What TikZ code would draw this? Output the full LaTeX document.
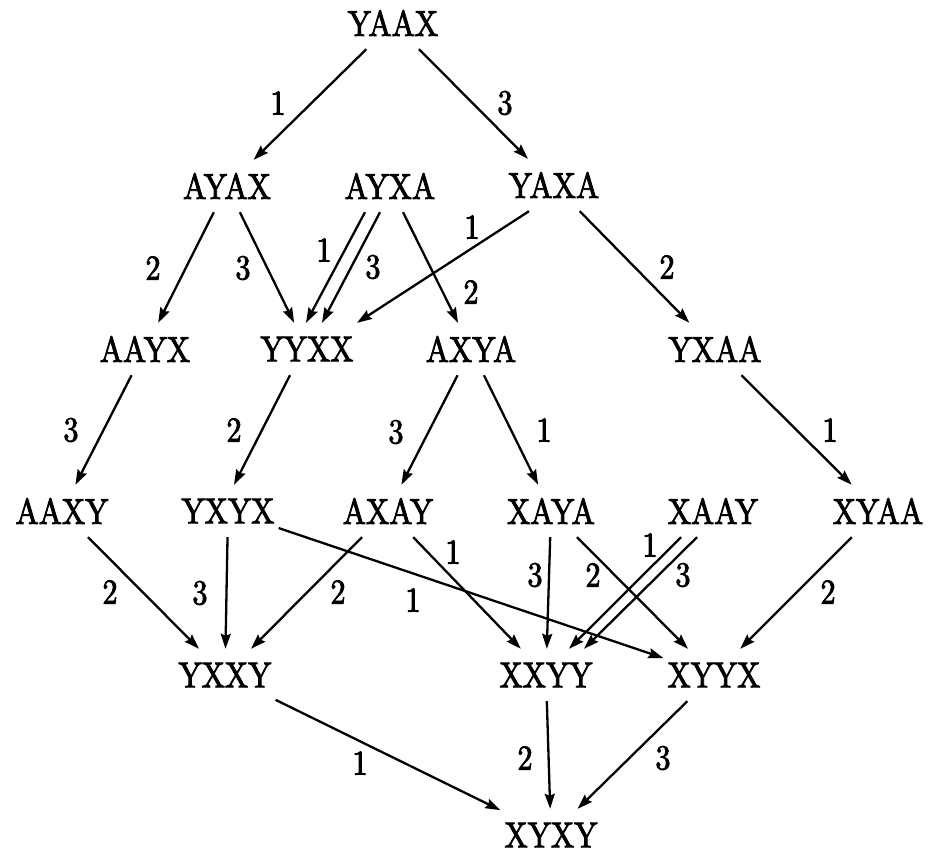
\documentclass[tikz,border=0pt]{standalone}
\usepackage{fontspec}
\newfontfamily\dgfont{lmroman10-regular.otf}[FakeStretch=0.86,FakeBold=2.4]
\usetikzlibrary{arrows.meta}
\begin{document}
\begin{tikzpicture}[x=1pt,y=-1pt,
  st/.style={font=\dgfont\fontsize{36}{42}\selectfont, inner xsep=4pt, inner ysep=0pt, minimum height=52pt},
  lab/.style={font=\dgfont\fontsize{35}{42}\selectfont, inner sep=0pt},
  ar/.style={-{Stealth[length=15pt,width=10pt,inset=2pt]}, line width=2.3pt}]
\useasboundingbox (0,0) rectangle (934,854);
% nodes
\node[st] (YAAX) at (393,23) {YAAX};
\node[st] (AYAX) at (227,186) {AYAX};
\node[st] (AYXA) at (390,186) {AYXA};
\node[st] (YAXA) at (554,185) {YAXA};
\node[st] (AAYX) at (145,349) {AAYX};
\node[st] (YYXX) at (307,349) {YYXX};
\node[st] (AXYA) at (471,349) {AXYA};
\node[st] (YXAA) at (715,349) {YXAA};
\node[st] (AAXY) at (62,511) {AAXY};
\node[st] (YXYX) at (228,511) {YXYX};
\node[st] (AXAY) at (388,511) {AXAY};
\node[st] (XAYA) at (551,511) {XAYA};
\node[st] (XAAY) at (713,511) {XAAY};
\node[st] (XYAA) at (878,511) {XYAA};
\node[st] (YXXY) at (225,675) {YXXY};
\node[st] (XXYY) at (546,675) {XXYY};
\node[st] (XYYX) at (714,675) {XYYX};
\node[st] (XYXY) at (551,835) {XYXY};
% edges
\draw[ar] (YAAX) -- (AYAX);
\draw[ar] (YAAX) -- (YAXA);
\draw[ar] (AYAX) -- (AAYX);
\draw[ar] (AYAX) -- (YYXX);
\draw[ar] ([xshift=-25pt]AYXA.south) -- ([xshift=-1pt]YYXX.north);
\draw[ar] ([xshift=-10pt]AYXA.south) -- ([xshift=15pt]YYXX.north);
\draw[ar] (AYXA) -- (AXYA);
\draw[ar] ([xshift=-25pt]YAXA.south) -- ([xshift=50pt]YYXX.north);
\draw[ar] (YAXA) -- (YXAA);
\draw[ar] (AAYX) -- (AAXY);
\draw[ar] ([xshift=-17pt]YYXX.south) -- ([xshift=6pt]YXYX.north);
\draw[ar] (AXYA) -- (AXAY);
\draw[ar] (AXYA) -- (XAYA);
\draw[ar] (YXAA) -- (XYAA);
\draw[ar] (AAXY) -- (YXXY);
\draw[ar] (YXYX) -- (YXXY);
\draw[ar] (AXAY) -- (YXXY);
\draw[ar] (AXAY) -- (XXYY);
\draw[ar] (YXYX) -- (XYYX);
\draw[ar] (XAYA) -- (XXYY);
\draw[ar] (XAYA) -- (XYYX);
\draw[ar] ([xshift=-32pt]XAAY.south) -- ([xshift=23pt]XXYY.north);
\draw[ar] ([xshift=-16pt]XAAY.south) -- ([xshift=38pt]XXYY.north);
\draw[ar] (XYAA) -- (XYYX);
\draw[ar] (YXXY) -- (XYXY);
\draw[ar] (XXYY) -- (XYXY);
\draw[ar] (XYYX) -- (XYXY);
% labels
\node[lab] (l1) at (278,103) {1};
\node[lab] (l2) at (505,103) {3};
\node[lab] (l3) at (153,268) {2};
\node[lab] (l4) at (243,268) {3};
\node[lab] (l5a) at (324,250) {1};
\node[lab] (l5b) at (373,267) {3};
\node[lab] (l6) at (471,292) {2};
\node[lab] (l7) at (472,227) {1};
\node[lab] (l8) at (667,267) {2};
\node[lab] (l9) at (71,430) {3};
\node[lab] (l10) at (234,430) {2};
\node[lab] (l11) at (396,432) {3};
\node[lab] (l12) at (544,430) {1};
\node[lab] (l13) at (830,430) {1};
\node[lab] (l14) at (110,592) {2};
\node[lab] (l15) at (200,593) {3};
\node[lab] (l16) at (338,592) {2};
\node[lab] (l17) at (453,552) {1};
\node[lab] (l18) at (413,600) {1};
\node[lab] (l19) at (535,575) {3};
\node[lab] (l20) at (593,575) {2};
\node[lab] (l21a) at (650,545) {1};
\node[lab] (l21b) at (683,575) {3};
\node[lab] (l22) at (828,592) {2};
\node[lab] (l23) at (360,763) {1};
\node[lab] (l24) at (525,758) {2};
\node[lab] (l25) at (663,758) {3};
\end{tikzpicture}
\end{document}
